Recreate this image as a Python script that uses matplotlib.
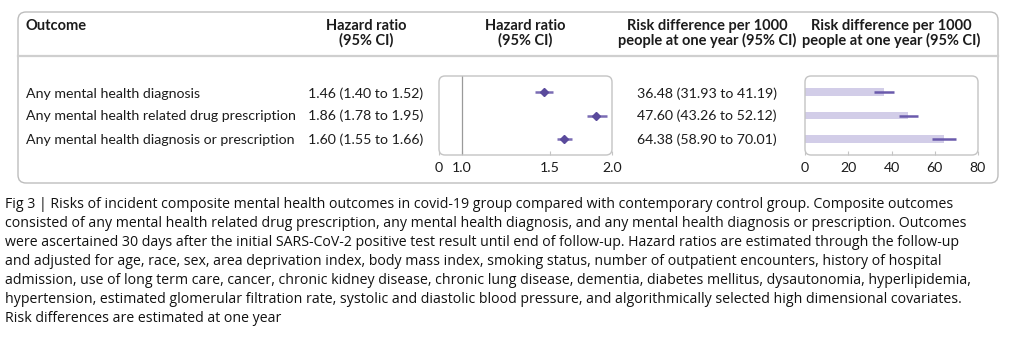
import matplotlib
matplotlib.use("Agg")
import matplotlib.pyplot as plt
from matplotlib.patches import FancyBboxPatch
from matplotlib.transforms import Affine2D
from matplotlib.ticker import NullLocator

# table rows
outcomes = [
    "Any mental health diagnosis",
    "Any mental health related drug prescription",
    "Any mental health diagnosis or prescription",
]
hr = [1.46, 1.86, 1.60]
hr_lo = [1.40, 1.78, 1.55]
hr_hi = [1.52, 1.95, 1.66]
rd = [36.48, 47.60, 64.38]
rd_lo = [31.93, 43.26, 58.90]
rd_hi = [41.19, 52.12, 70.01]

hr_ticks = [0.9, 1.0, 1.5, 2.0]
hr_ticklabels = ["0", "1.0", "1.5", "2.0"]
rd_ticks = [0, 20, 40, 60, 80]

caption = (
    "Fig 3 | Risks of incident composite mental health outcomes in covid-19 group compared with contemporary control group. Composite outcomes\n"
    "consisted of any mental health related drug prescription, any mental health diagnosis, and any mental health diagnosis or prescription. Outcomes\n"
    "were ascertained 30 days after the initial SARS-CoV-2 positive test result until end of follow-up. Hazard ratios are estimated through the follow-up\n"
    "and adjusted for age, race, sex, area deprivation index, body mass index, smoking status, number of outpatient encounters, history of hospital\n"
    "admission, use of long term care, cancer, chronic kidney disease, chronic lung disease, dementia, diabetes mellitus, dysautonomia, hyperlipidemia,\n"
    "hypertension, estimated glomerular filtration rate, systolic and diastolic blood pressure, and algorithmically selected high dimensional covariates.\n"
    "Risk differences are estimated at one year"
)

W, H = 1017, 337
fig = plt.figure(figsize=(W / 100, H / 100), dpi=100)
# pixel coordinates, origin top-left
px = Affine2D().scale(1 / W, -1 / H).translate(0, 1) + fig.transFigure

TXT = "#1c1c1c"
GREY = "#c4c4c4"
PURPLE = "#5a4a9c"
LAV = "#d2cde8"
tfont = "Lato"
tsize = 10.2

# outer frame and header rule
fig.add_artist(FancyBboxPatch((18, 12), 980, 171, boxstyle="round,pad=0,rounding_size=8",
                              transform=px, fc="none", ec="#bdbdbd", lw=1.0))
fig.add_artist(plt.Line2D([18, 998], [56, 56], transform=px, color="#cfcfcf", lw=1.6))

def txt(x, y, s, **kw):
    kw.setdefault("family", tfont)
    kw.setdefault("size", tsize)
    kw.setdefault("color", TXT)
    kw.setdefault("va", "baseline")
    fig.text(x, y, s, transform=px, **kw)

# headers
txt(26, 30, "Outcome", weight="bold", size=10.5)
txt(366, 30, "Hazard ratio", weight="bold", ha="center", size=10.5)
txt(366, 45, "(95% CI)", weight="bold", ha="center", size=10.5)
txt(525, 30, "Hazard ratio", weight="bold", ha="center", size=10.5)
txt(525, 45, "(95% CI)", weight="bold", ha="center", size=10.5)
txt(707, 30, "Risk difference per 1000", weight="bold", ha="center", size=10.5)
txt(707, 45, "people at one year (95% CI)", weight="bold", ha="center", size=10.5)
txt(891, 30, "Risk difference per 1000", weight="bold", ha="center", size=10.5)
txt(891, 45, "people at one year (95% CI)", weight="bold", ha="center", size=10.5)

# table body
row_base = [97.5, 120.5, 143.5]
for i, name in enumerate(outcomes):
    txt(26, row_base[i], name)
    txt(366, row_base[i], f"{hr[i]:.2f} ({hr_lo[i]:.2f} to {hr_hi[i]:.2f})", ha="center")
    txt(707, row_base[i], f"{rd[i]:.2f} ({rd_lo[i]:.2f} to {rd_hi[i]:.2f})", ha="center")

def panel(x0, x1, y0=76, y1=155):
    ax = fig.add_axes([x0 / W, 1 - y1 / H, (x1 - x0) / W, (y1 - y0) / H])
    for s in ax.spines.values():
        s.set_visible(False)
    fig.add_artist(FancyBboxPatch((x0, y0), x1 - x0, y1 - y0, boxstyle="round,pad=0,rounding_size=6",
                                  transform=px, fc="none", ec=GREY, lw=1.0, zorder=3))
    ax.set_yticks([])
    ax.set_ylim(2.68, -0.68)
    ax.tick_params(axis="x", direction="in", length=3, color=GREY, pad=5,
                   labelsize=tsize, labelcolor=TXT)
    return ax

ypos = list(range(len(outcomes)))

# hazard ratio forest plot (log scale)
ax1 = panel(439, 612)
ax1.set_xscale("log")
ax1.set_xlim(0.9, 2.0)
ax1.xaxis.set_minor_locator(NullLocator())
ax1.set_xticks(hr_ticks)
ax1.set_xticklabels(hr_ticklabels, family=tfont)
ax1.axvline(1.0, color="#9a9a9a", lw=0.9)
ax1.hlines(ypos, hr_lo, hr_hi, color="#7a6cb4", lw=1.8)
ax1.plot(hr, ypos, "D", color=PURPLE, ms=4.5, ls="none")

# risk difference bars
ax2 = panel(805, 978)
ax2.set_xlim(0, 80)
ax2.set_xticks(rd_ticks)
ax2.set_xticklabels([str(t) for t in rd_ticks], family=tfont)
ax2.barh(ypos, rd, height=0.32, color=LAV)
ax2.hlines(ypos, rd_lo, rd_hi, color="#6a5aac", lw=1.8)

# caption
fig.text(5, 197, caption, transform=px, family="Open Sans", size=10.2, color="#111111",
         va="top", linespacing=1.36)

fig.savefig("out.png", dpi=100)
